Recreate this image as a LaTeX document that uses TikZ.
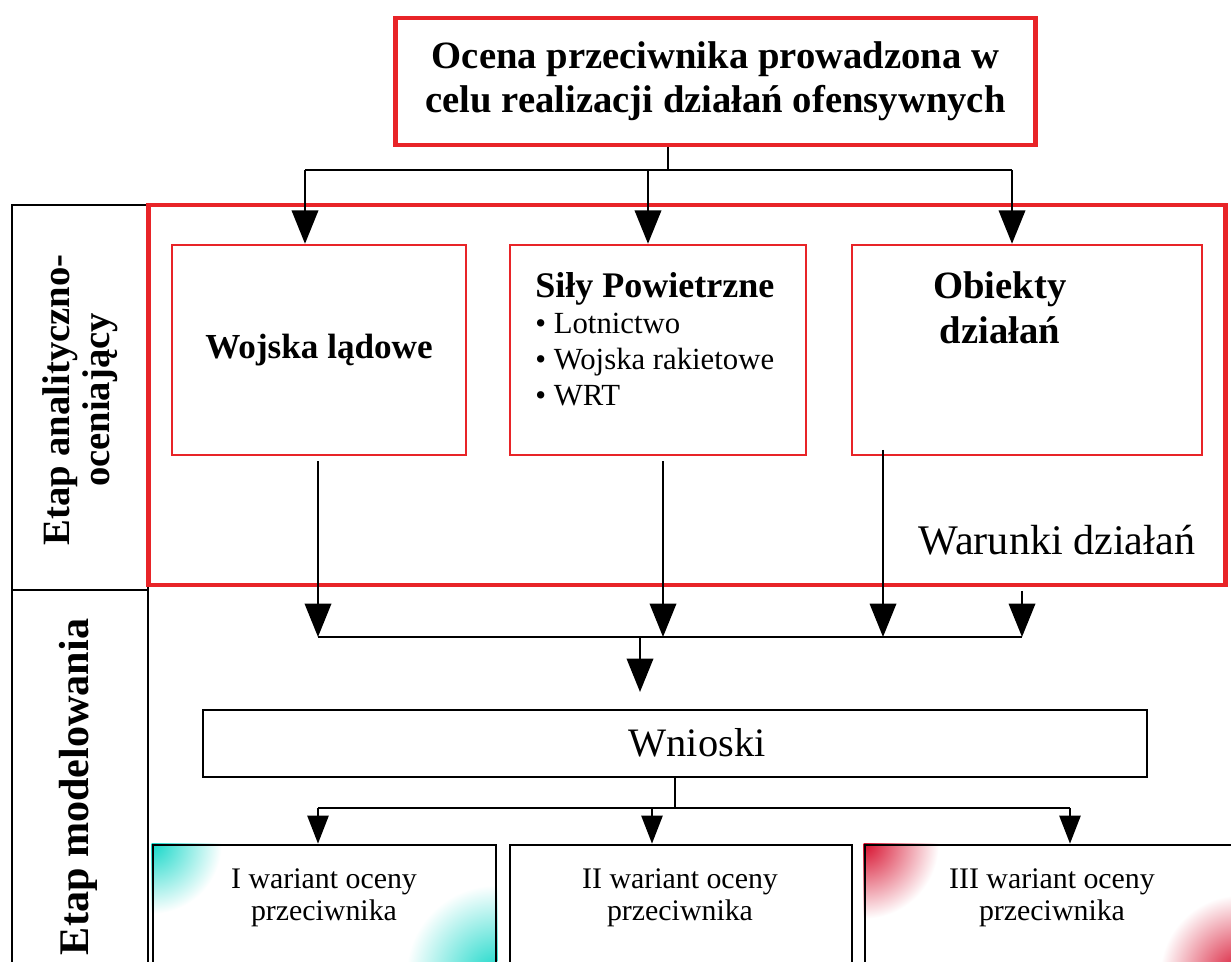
\documentclass[tikz,border=0pt]{standalone}
\usepackage{fontspec}
\setmainfont{Liberation Serif}
\usetikzlibrary{arrows.meta,backgrounds}
\definecolor{rl}{RGB}{232,36,40}
\definecolor{cy}{RGB}{20,215,200}
\definecolor{rd}{RGB}{215,15,45}
\begin{document}
\begin{tikzpicture}[x=0.02cm,y=-0.02cm,
  redthick/.style={draw=rl, line width=2.8pt, inner sep=0pt},
  redthin/.style={draw=rl, line width=1.4pt, inner sep=0pt},
  blk/.style={draw=black, line width=1.2pt, inner sep=0pt},
  ln/.style={line width=1.4pt},
  arr/.style={line width=1.4pt, -{Triangle[length=19pt,width=15pt]}},
  arrs/.style={line width=1.4pt, -{Triangle[length=16pt,width=12pt]}},
  lab/.style={inner sep=0pt}]
\clip (0,0) rectangle (1231,962);

% top box
\node[redthick, minimum width=12.82cm, minimum height=2.54cm, align=center,
  font=\bfseries\fontsize{22}{25}\selectfont] (top) at (715.5,81.5)
  {Ocena przeciwnika prowadzona w\\celu realizacji działań ofensywnych};

% left column
\node[blk, minimum width=2.72cm, minimum height=7.7cm] (L1) at (80,397.5) {};
\node[blk, minimum width=2.72cm, minimum height=7.7cm] (L2) at (80,782.5) {};
\node[lab, rotate=90, align=center, font=\bfseries\fontsize{22}{23}\selectfont] (l1t) at (80,400) {Etap analityczno-\\oceniający};
\node[lab, rotate=90, font=\bfseries\fontsize{24}{26}\selectfont] (l2t) at (78,787) {Etap modelowania};

% big red box
\node[redthick, minimum width=21.56cm, minimum height=7.6cm] (R) at (687,395) {};
\node[lab, font=\fontsize{24}{26}\selectfont] (war) at (1057,540) {Warunki działań};

% inner boxes
\node[redthin, minimum width=5.88cm, minimum height=4.2cm, font=\bfseries\fontsize{20}{22}\selectfont] (W) at (319,350) {Wojska lądowe};
\node[redthin, minimum width=5.92cm, minimum height=4.2cm] (S) at (658,350) {};
\node[lab, anchor=north west, align=left, font=\fontsize{17.5}{20.5}\selectfont] (St) at (535,272)
  {{\bfseries\fontsize{20.5}{22}\selectfont Siły Powietrzne}\\• Lotnictwo\\• Wojska rakietowe\\• WRT};
\node[redthin, minimum width=7.0cm, minimum height=4.2cm] (O) at (1027,350) {};
\node[lab, align=center, font=\bfseries\fontsize{22}{25.5}\selectfont] (Ot) at (1000,308) {Obiekty\\działań};

% top connectors
\coordinate (t0) at (668,170);
\coordinate (ta) at (305,170);
\coordinate (tb) at (648,170);
\coordinate (tc) at (1012,170);
\draw[ln] (top.south -| t0) -- (t0);
\draw[ln] (ta) -- (tc);
\draw[arr] (ta) -- (ta |- W.north);
\draw[arr] (tb) -- (tb |- S.north);
\draw[arr] (tc) -- (tc |- O.north);

% middle connectors
\coordinate (ma) at (318,637);
\coordinate (mb) at (663,637);
\coordinate (mc) at (883,637);
\coordinate (md) at (1022,637);
\coordinate (mm) at (640,637);
\coordinate (mw) at (640,692);
\coordinate (ms) at (883,450);
\draw[arr, shorten <=3pt] (W.south -| ma) -- (ma);
\draw[arr, shorten <=3pt] (S.south -| mb) -- (mb);
\draw[arr] (ms) -- (mc);
\draw[arr, shorten <=2pt] (R.south -| md) -- (md);
\draw[ln] (ma) -- (md);
\draw[arr] (mm) -- (mw);

% Wnioski
\node[blk, minimum width=18.88cm, minimum height=1.34cm] (Wn) at (675,743.5) {};
\node[lab, font=\fontsize{23}{25}\selectfont] (Wnt) at (697,743) {Wnioski};

% bottom boxes
\node[draw=black, line width=1.5pt, minimum width=6.86cm, minimum height=2.7cm] (B1) at (324.5,912.5) {};
\node[draw=black, line width=1.5pt, minimum width=6.84cm, minimum height=2.7cm] (B2) at (681,912.5) {};
\node[draw=black, line width=1.5pt, minimum width=7.5cm, minimum height=2.7cm] (B3) at (1052.5,912.5) {};
\node[lab, align=center, font=\fontsize{17}{18.5}\selectfont] at (324,898) {I wariant oceny\\przeciwnika};
\node[lab, align=center, font=\fontsize{17}{18.5}\selectfont] at (680,898) {II wariant oceny\\przeciwnika};
\node[lab, align=center, font=\fontsize{17}{18.5}\selectfont] at (1052,898) {III wariant oceny\\przeciwnika};

\begin{scope}[on background layer]
  \fill[white] (0,0) rectangle (1231,962);
  \begin{scope}
    \clip (B1.south west) rectangle (B1.north east);
    \shade[inner color=cy, outer color=white] (B1.north west) circle (1.4cm);
    \shade[inner color=cy, outer color=white] (496,975) circle (1.8cm);
  \end{scope}
  \begin{scope}
    \clip (B3.south west) rectangle (B3.north east);
    \shade[inner color=rd, outer color=white] (B3.north west) circle (1.5cm);
    \shade[inner color=rd, outer color=white] (1240,975) circle (1.6cm);
  \end{scope}
\end{scope}

% bottom connectors
\coordinate (bt) at (675,808);
\coordinate (ba) at (318,808);
\coordinate (bb) at (652,808);
\coordinate (bc) at (1070,808);
\draw[ln] (Wn.south -| bt) -- (bt);
\draw[ln] (ba) -- (bc);
\draw[arrs] (ba) -- (ba |- B1.north);
\draw[arrs] (bb) -- (bb |- B2.north);
\draw[arrs] (bc) -- (bc |- B3.north);
\end{tikzpicture}
\end{document}
